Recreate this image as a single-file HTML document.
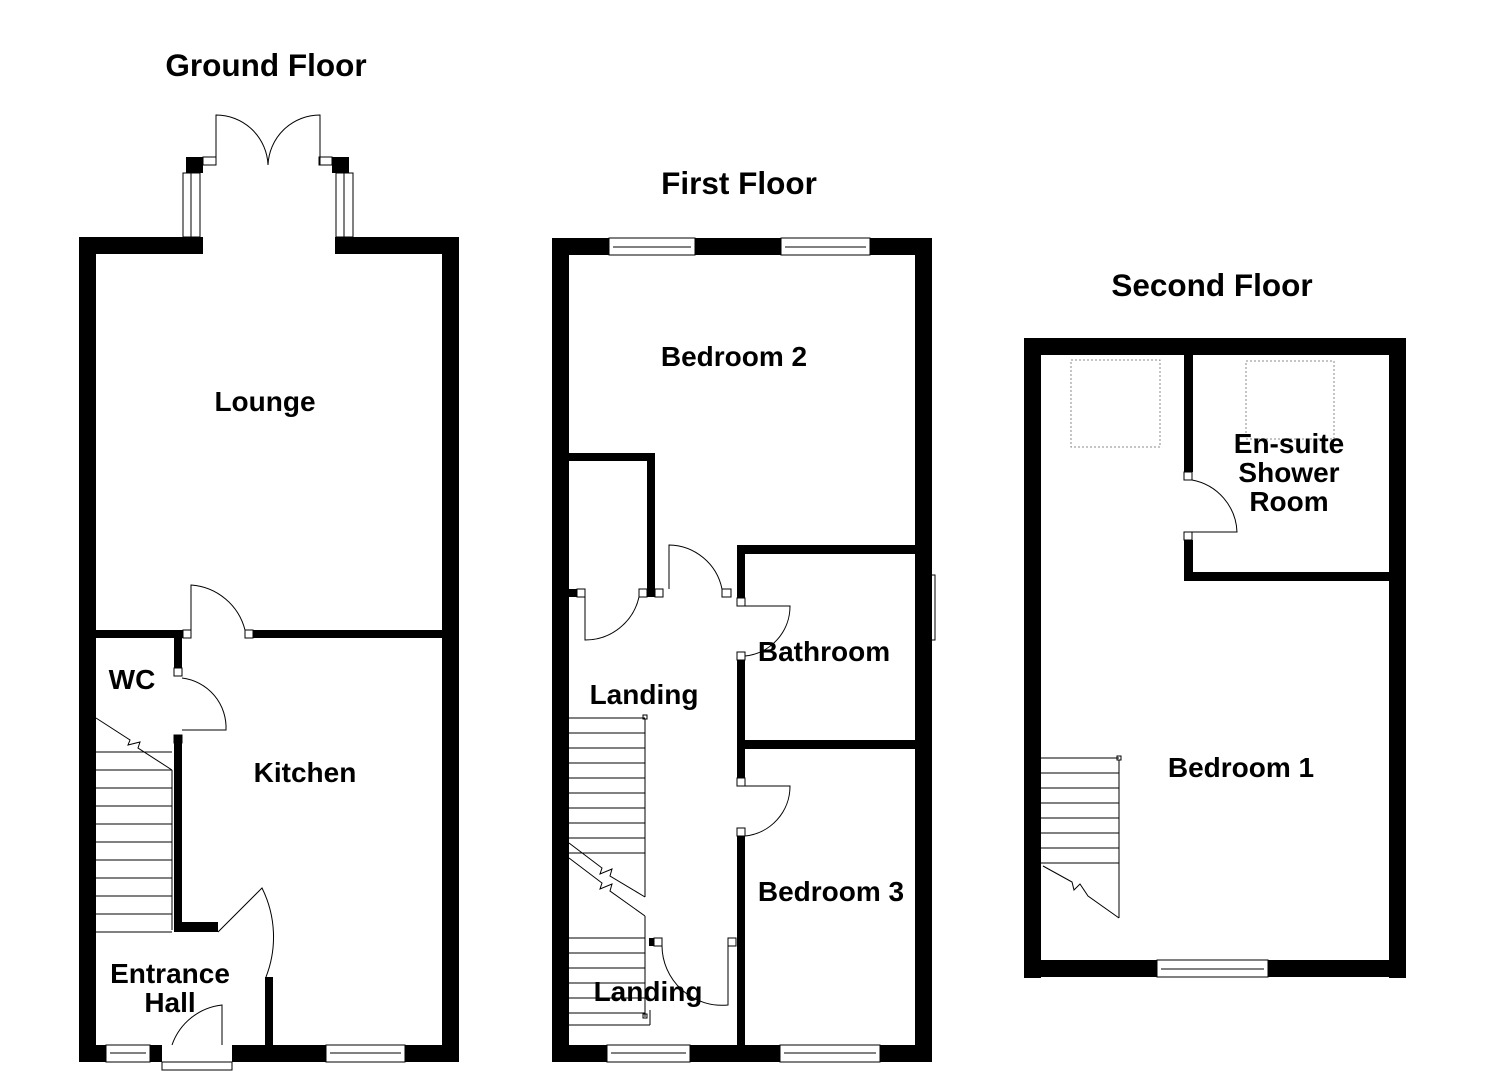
<!DOCTYPE html>
<html><head><style>
body{margin:0;background:#fff}
svg{display:block}
text{font-family:"Liberation Sans",sans-serif;font-weight:bold;fill:#000}
</style></head><body>
<svg width="1485" height="1080" viewBox="0 0 1485 1080" xmlns="http://www.w3.org/2000/svg">
<g fill="#000">
<rect x="79" y="237" width="17" height="825"/>
<rect x="442" y="237" width="17" height="825"/>
<rect x="79" y="237" width="124" height="17"/>
<rect x="335" y="237" width="124" height="17"/>
<rect x="186" y="157" width="17" height="16"/>
<rect x="332" y="157" width="17" height="16"/>
<rect x="79" y="1045" width="27" height="17"/>
<rect x="150" y="1045" width="12" height="17"/>
<rect x="232" y="1045" width="94" height="17"/>
<rect x="405" y="1045" width="54" height="17"/>
<rect x="96" y="630" width="87" height="8"/>
<rect x="253" y="630" width="189" height="8"/>
<rect x="174" y="630" width="8" height="38"/>
<rect x="174" y="735" width="8" height="197"/>
<rect x="174" y="922" width="44" height="10"/>
<rect x="265" y="977" width="8" height="70"/>
<rect x="552" y="238" width="17" height="824"/>
<rect x="915" y="238" width="17" height="824"/>
<rect x="552" y="238" width="57" height="17"/>
<rect x="695" y="238" width="86" height="17"/>
<rect x="870" y="238" width="62" height="17"/>
<rect x="552" y="1045" width="55" height="17"/>
<rect x="690" y="1045" width="90" height="17"/>
<rect x="880" y="1045" width="52" height="17"/>
<rect x="569" y="453" width="86" height="8"/>
<rect x="647" y="453" width="8" height="144"/>
<rect x="569" y="589" width="8" height="8"/>
<rect x="737" y="545" width="178" height="9"/>
<rect x="737" y="545" width="8" height="53"/>
<rect x="737" y="660" width="8" height="118"/>
<rect x="737" y="740" width="178" height="9"/>
<rect x="737" y="836" width="8" height="209"/>
<rect x="649" y="938" width="5" height="8"/>
<rect x="1024" y="338" width="17" height="640"/>
<rect x="1389" y="338" width="17" height="640"/>
<rect x="1024" y="338" width="382" height="17"/>
<rect x="1024" y="960" width="133" height="17"/>
<rect x="1268" y="960" width="138" height="17"/>
<rect x="1184" y="355" width="9" height="117"/>
<rect x="1184" y="540" width="9" height="41"/>
<rect x="1184" y="572" width="205" height="9"/>
</g>
<g fill="none" stroke="#000" stroke-width="1">
<rect x="183" y="173" width="17" height="64"/><line x1="191" y1="173" x2="191" y2="237"/>
<rect x="336" y="173" width="17" height="64"/><line x1="344" y1="173" x2="344" y2="237"/>
<rect x="203" y="157" width="13" height="8"/><rect x="319" y="157" width="13" height="8"/>
<path d="M216 165 L216 115 A52 52 0 0 1 268 165"/>
<path d="M320 165 L320 115 A52 52 0 0 0 268 165"/>
<rect x="106" y="1045" width="44" height="17"/><line x1="110" y1="1053" x2="146" y2="1053"/>
<rect x="326" y="1045" width="79" height="17"/><line x1="330" y1="1053" x2="401" y2="1053"/>
<rect x="162" y="1062" width="70" height="8"/>
<path d="M222 1045 L222 1005 A60 60 0 0 0 172 1045"/>
<rect x="183" y="630" width="8" height="8"/><rect x="245" y="630" width="8" height="8"/>
<path d="M191 630 L191 585 A60 60 0 0 1 245 630"/>
<rect x="174" y="668" width="8" height="8"/><rect x="174" y="735" width="8" height="8"/>
<path d="M182 678 A50 50 0 0 1 226 730 L182 730"/>
<path d="M218 932 L262 888 A110 110 0 0 1 266 977"/>
<path d="M96 718 L130 740 L128 745 L140 742 L138 748 L172 770"/>
<line x1="172" y1="770" x2="172" y2="930"/>
<g>
<line x1="96" y1="752" x2="172" y2="752"/><line x1="96" y1="770" x2="172" y2="770"/>
<line x1="96" y1="788" x2="172" y2="788"/><line x1="96" y1="806" x2="172" y2="806"/>
<line x1="96" y1="824" x2="172" y2="824"/><line x1="96" y1="842" x2="172" y2="842"/>
<line x1="96" y1="860" x2="172" y2="860"/><line x1="96" y1="878" x2="172" y2="878"/>
<line x1="96" y1="896" x2="172" y2="896"/><line x1="96" y1="914" x2="172" y2="914"/>
<line x1="96" y1="932" x2="172" y2="932"/>
</g>
<rect x="609" y="238" width="86" height="17"/><line x1="613" y1="247" x2="691" y2="247"/>
<rect x="781" y="238" width="89" height="17"/><line x1="785" y1="247" x2="866" y2="247"/>
<rect x="607" y="1045" width="83" height="17"/><line x1="611" y1="1053" x2="686" y2="1053"/>
<rect x="780" y="1045" width="100" height="17"/><line x1="784" y1="1053" x2="876" y2="1053"/>
<rect x="920" y="575" width="15" height="65"/><line x1="927" y1="579" x2="927" y2="636"/>
<rect x="577" y="589" width="8" height="8"/><rect x="639" y="589" width="8" height="8"/>
<path d="M585 597 L585 640 A55 55 0 0 0 639 597"/>
<rect x="655" y="589" width="8" height="8"/><rect x="722" y="589" width="9" height="8"/>
<path d="M669 589 L669 545 A55 55 0 0 1 722 589"/>
<rect x="737" y="598" width="8" height="8"/><rect x="737" y="652" width="8" height="8"/>
<path d="M745 606 L790 606 A50 50 0 0 1 745 656"/>
<rect x="737" y="778" width="8" height="8"/><rect x="737" y="828" width="8" height="8"/>
<path d="M745 786 L790 786 A50 50 0 0 1 745 836"/>
<rect x="654" y="938" width="8" height="8"/><rect x="728" y="938" width="8" height="8"/>
<path d="M662 946 A60 60 0 0 0 728 1005 L728 946"/>
<rect x="643" y="715" width="4" height="4"/>
<line x1="645" y1="719" x2="645" y2="897"/>
<line x1="569" y1="718" x2="645" y2="718"/>
<line x1="569" y1="733" x2="645" y2="733"/><line x1="569" y1="748" x2="645" y2="748"/>
<line x1="569" y1="763" x2="645" y2="763"/><line x1="569" y1="778" x2="645" y2="778"/>
<line x1="569" y1="793" x2="645" y2="793"/><line x1="569" y1="808" x2="645" y2="808"/>
<line x1="569" y1="823" x2="645" y2="823"/><line x1="569" y1="838" x2="645" y2="838"/>
<line x1="569" y1="853" x2="645" y2="853"/>
<path d="M569 843 L602 868 L600 874 L612 869 L610 876 L645 897"/>
<path d="M569 858 L602 883 L600 889 L612 884 L610 891 L645 916"/>
<line x1="645" y1="916" x2="645" y2="1017"/>
<rect x="643" y="1014" width="4" height="4"/>
<line x1="650" y1="1010" x2="650" y2="1025"/>
<line x1="569" y1="938" x2="645" y2="938"/><line x1="569" y1="953" x2="645" y2="953"/>
<line x1="569" y1="968" x2="645" y2="968"/><line x1="569" y1="983" x2="645" y2="983"/>
<line x1="569" y1="998" x2="645" y2="998"/><line x1="569" y1="1013" x2="645" y2="1013"/>
<line x1="569" y1="1025" x2="650" y2="1025"/>
<rect x="1157" y="960" width="111" height="17"/><line x1="1161" y1="969" x2="1264" y2="969"/>
<rect x="1184" y="472" width="8" height="8"/><rect x="1184" y="532" width="8" height="8"/>
<path d="M1192 480 A55 55 0 0 1 1237 532 L1192 532"/>
<g stroke="#888" stroke-dasharray="2,2"><rect x="1071" y="360" width="89" height="87"/><rect x="1246" y="361" width="88" height="78"/></g>
<rect x="1117" y="756" width="4" height="4"/>
<line x1="1119" y1="760" x2="1119" y2="918"/>
<line x1="1041" y1="758" x2="1119" y2="758"/><line x1="1041" y1="773" x2="1119" y2="773"/>
<line x1="1041" y1="788" x2="1119" y2="788"/><line x1="1041" y1="803" x2="1119" y2="803"/>
<line x1="1041" y1="818" x2="1119" y2="818"/><line x1="1041" y1="833" x2="1119" y2="833"/>
<line x1="1041" y1="848" x2="1119" y2="848"/><line x1="1041" y1="863" x2="1119" y2="863"/>
<path d="M1043 866 L1072 882 L1074 890 L1080 884 L1088 896 L1119 918"/>
</g>
<g font-size="31.5" text-anchor="middle">
<text x="266" y="76">Ground Floor</text>
<text x="739" y="194">First Floor</text>
<text x="1212" y="296">Second Floor</text>
</g>
<g font-size="28" text-anchor="middle">
<text x="265" y="411">Lounge</text>
<text x="132" y="689">WC</text>
<text x="305" y="782">Kitchen</text>
<text x="170" y="983">Entrance</text>
<text x="170" y="1012">Hall</text>
<text x="734" y="366">Bedroom 2</text>
<text x="824" y="661">Bathroom</text>
<text x="644" y="704">Landing</text>
<text x="831" y="901">Bedroom 3</text>
<text x="648" y="1001">Landing</text>
<text x="1289" y="453">En-suite</text>
<text x="1289" y="482">Shower</text>
<text x="1289" y="511">Room</text>
<text x="1241" y="777">Bedroom 1</text>
</g>
</svg>
</body></html>
